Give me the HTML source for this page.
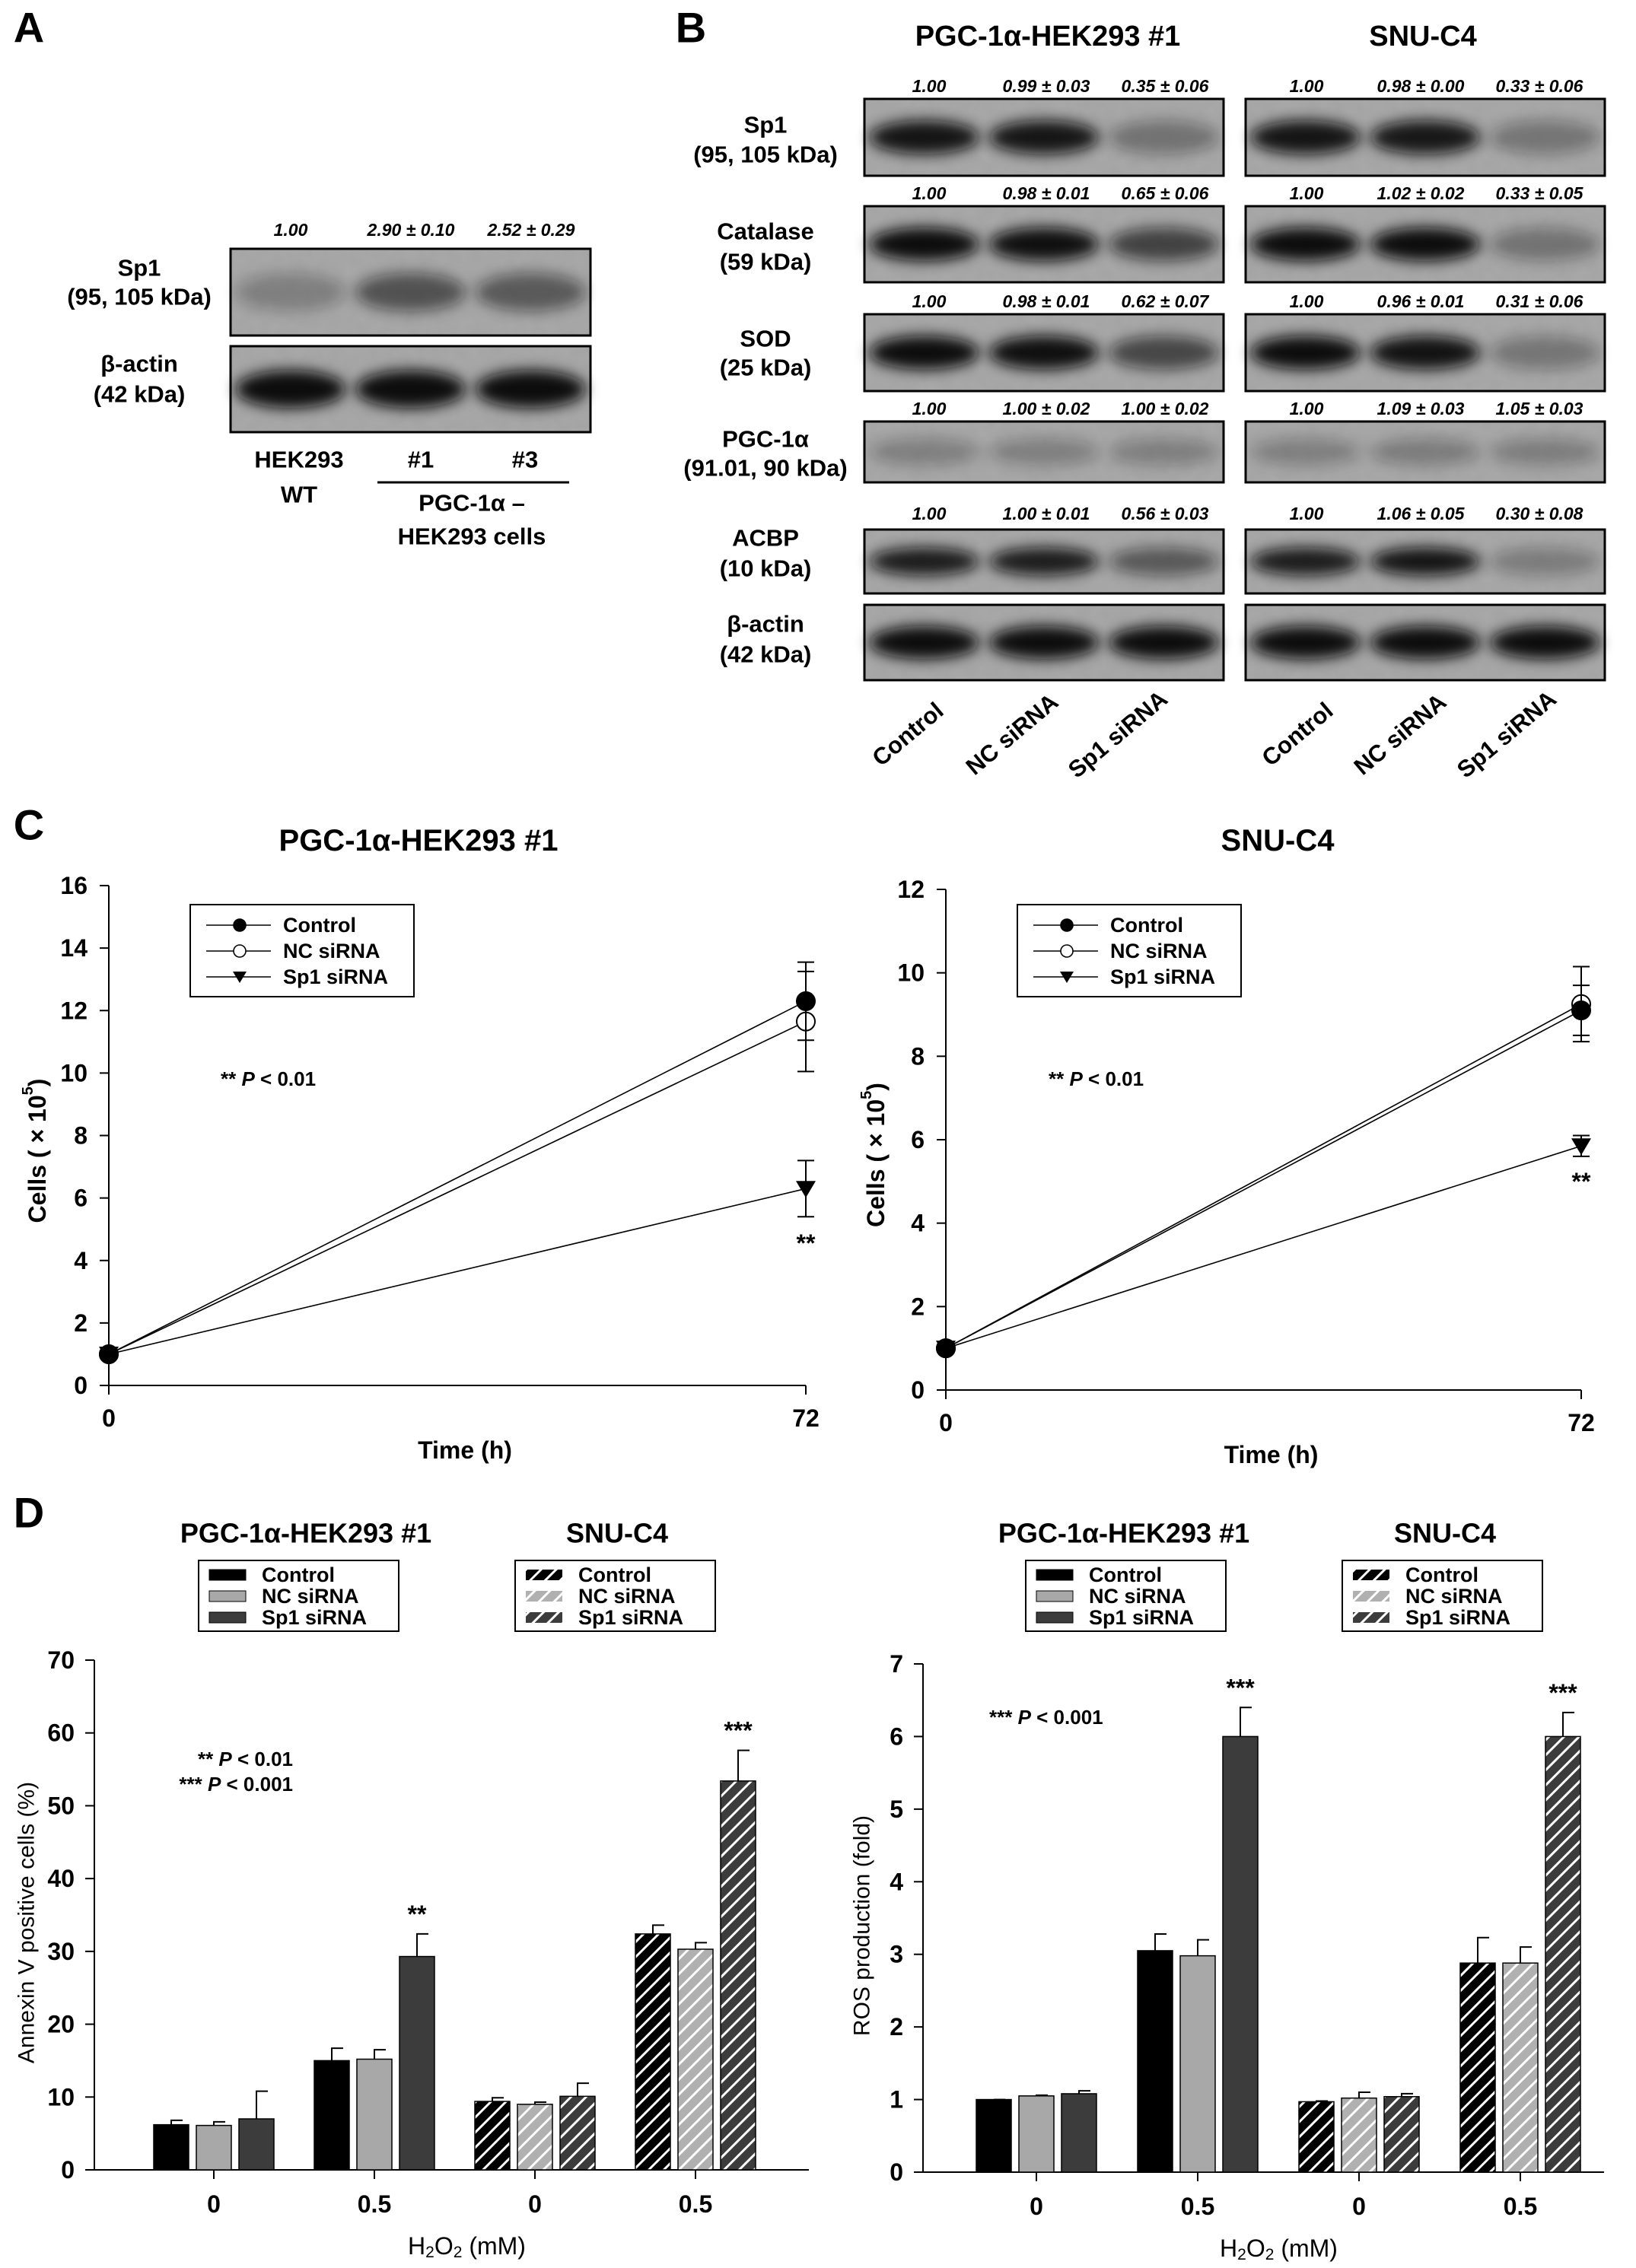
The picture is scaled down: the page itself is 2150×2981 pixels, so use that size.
<!DOCTYPE html>
<html><head><meta charset="utf-8"><style>
html,body{margin:0;padding:0;background:#fff;}
svg{display:block;font-family:"Liberation Sans",Arial,sans-serif;font-weight:bold;}
</style></head><body>
<svg id="fig" xmlns="http://www.w3.org/2000/svg" width="2150" height="2981" viewBox="0 0 2150 2981">
<defs>
<filter id="blur" x="-30%" y="-60%" width="160%" height="220%"><feGaussianBlur stdDeviation="9"/></filter>
<filter id="noise" x="0" y="0" width="100%" height="100%"><feTurbulence type="fractalNoise" baseFrequency="0.06" numOctaves="2" seed="3"/><feColorMatrix type="matrix" values="0 0 0 0 0.3 0 0 0 0 0.3 0 0 0 0 0.3 0 0 0 0.3 0"/></filter>
<pattern id="hatchBlack" patternUnits="userSpaceOnUse" width="14" height="14" patternTransform="rotate(45)"><rect width="14" height="14" fill="#000"/><rect x="0" y="0" width="3" height="14" fill="#fff"/></pattern>
<pattern id="hatchLight" patternUnits="userSpaceOnUse" width="14" height="14" patternTransform="rotate(45)"><rect width="14" height="14" fill="#b0b0b0"/><rect x="0" y="0" width="3" height="14" fill="#fff"/></pattern>
<pattern id="hatchDark" patternUnits="userSpaceOnUse" width="14" height="14" patternTransform="rotate(45)"><rect width="14" height="14" fill="#3c3c3c"/><rect x="0" y="0" width="3" height="14" fill="#fff"/></pattern>
</defs>
</svg>
<script>
// ---------- Panel C data ----------
var cTime = [0, 72];
var cHekControl = [1.0, 12.3];
var cHekNC = [1.0, 11.65];
var cHekSp1 = [1.0, 6.3];
var cHekControlErr = [0.05, 1.25];
var cHekNCErr = [0.05, 1.6];
var cHekSp1Err = [0.05, 0.9];
var cSnuControl = [1.0, 9.1];
var cSnuNC = [1.0, 9.25];
var cSnuSp1 = [1.0, 5.85];
var cSnuControlErr = [0.05, 0.6];
var cSnuNCErr = [0.05, 0.9];
var cSnuSp1Err = [0.05, 0.25];
var cHekTicks = [0, 2, 4, 6, 8, 10, 12, 14, 16];
var cSnuTicks = [0, 2, 4, 6, 8, 10, 12];
var cXTicks = ["0", "72"];
// ---------- Panel D data ----------
var dCategories = ["0", "0.5", "0", "0.5"];
var dAnnexinControl = [6.2, 15.0, 9.4, 32.4];
var dAnnexinNC = [6.1, 15.2, 9.0, 30.3];
var dAnnexinSp1 = [7.0, 29.3, 10.1, 53.4];
var dAnnexinControlErr = [0.6, 1.7, 0.5, 1.2];
var dAnnexinNCErr = [0.5, 1.3, 0.3, 0.9];
var dAnnexinSp1Err = [3.8, 3.1, 1.8, 4.2];
var dAnnexinStars = ["", "**", "", "***"];
var dAnnexinTicks = [0, 10, 20, 30, 40, 50, 60, 70];
var dRosControl = [1.0, 3.05, 0.97, 2.88];
var dRosNC = [1.05, 2.98, 1.02, 2.88];
var dRosSp1 = [1.08, 6.0, 1.04, 6.0];
var dRosControlErr = [0.0, 0.23, 0.01, 0.35];
var dRosNCErr = [0.01, 0.22, 0.08, 0.22];
var dRosSp1Err = [0.04, 0.4, 0.04, 0.33];
var dRosStars = ["", "***", "", "***"];
var dRosTicks = [0, 1, 2, 3, 4, 5, 6, 7];
// ---------- Blot intensities ----------
var blotALanes = [0.45, 1.0, 0.9];
var blotAActin = [1, 1, 1];
var blotBRows = ["Sp1", "Catalase", "SOD", "PGC-1α", "ACBP", "β-actin"];
var blotBHekVals = [[1,0.99,0.35],[1,0.98,0.65],[1,0.98,0.62],[1,1,1],[1,1,0.56],[1,1,1]];
var blotBSnuVals = [[1,0.98,0.33],[1,1.02,0.33],[1,0.96,0.31],[1,1.09,1.05],[1,1.06,0.30],[1,1,1]];

var NS = "http://www.w3.org/2000/svg";
var svg = document.getElementById("fig");
function mk(tag, attrs, parent) {
  var e = document.createElementNS(NS, tag);
  for (var k in attrs) e.setAttribute(k, attrs[k]);
  (parent || svg).appendChild(e);
  return e;
}
function txt(str, x, y, size, parent, anchor, extra) {
  var a = {x: x, y: y, "font-size": size, "text-anchor": anchor || "middle", "dominant-baseline": "central", fill: "#000"};
  if (extra) for (var k in extra) a[k] = extra[k];
  var t = mk("text", a, parent);
  t.textContent = str;
  return t;
}

// ---------- Panel letters ----------
var letters = [["A", 38, 36], ["B", 908, 36], ["C", 38, 1084], ["D", 38, 1988]];
letters.forEach(function (L) {
  var t = txt(L[0], L[1], L[2], 56);
  
  
});

// ---------- Blot helper ----------
function blot(x, y, w, h, vals, dark, name) {
  var g = mk("g", {});
  
  
  mk("rect", {x: x, y: y, width: w, height: h, fill: "#a9a9a9"}, g);
  mk("rect", {x: x, y: y, width: w, height: h, filter: "url(#noise)"}, g);
  var lw = w / 3;
  vals.forEach(function (v, i) {
    var cx = x + lw * (i + 0.5);
    var op = Math.max(0.12, Math.min(1, v * dark));
    var b = mk("ellipse", {cx: cx, cy: y + h * 0.5, rx: lw * 0.46, ry: h * 0.22, fill: "#0a0a0a", opacity: op, filter: "url(#blur)"}, g);
    
    
  });
  mk("rect", {x: x, y: y, width: w, height: h, fill: "none", stroke: "#000", "stroke-width": 3}, g);
  return g;
}

// ---------- Panel A ----------
blot(303, 327, 473, 114, blotALanes, 0.55, "blot-a-sp1");
blot(303, 455, 473, 113, blotAActin, 1.1, "blot-a-actin");
var aVals = ["1.00", "2.90 ± 0.10", "2.52 ± 0.29"];
[382, 540, 698].forEach(function (x, i) {
  var t = txt(aVals[i], x, 302, 23, null, "middle", {"font-style": "italic"});
  
  
});
[["Sp1", 183, 352], ["(95, 105 kDa)", 183, 390], ["β-actin", 183, 478], ["(42 kDa)", 183, 518],
 ["HEK293", 393, 604], ["WT", 393, 650], ["#1", 553, 604], ["#3", 690, 604],
 ["PGC-1α –", 620, 661], ["HEK293 cells", 620, 705]].forEach(function (L) {
  var t = txt(L[0], L[1], L[2], 31);
  
  
});
var aLine = mk("line", {x1: 496, y1: 634, x2: 748, y2: 634, stroke: "#000", "stroke-width": 3});



// ---------- Panel B ----------
var bRowsY = [[130, 231], [271, 371], [413, 514], [554, 634], [696, 780], [795, 894]];
var bLabelY = [[164, 203], [304, 344], [445, 483], [577, 615], [707, 747], [820, 860]];
var bSub = ["(95, 105 kDa)", "(59 kDa)", "(25 kDa)", "(91.01, 90 kDa)", "(10 kDa)", "(42 kDa)"];
var bHekValTxt = [["1.00","0.99 ± 0.03","0.35 ± 0.06"],["1.00","0.98 ± 0.01","0.65 ± 0.06"],["1.00","0.98 ± 0.01","0.62 ± 0.07"],["1.00","1.00 ± 0.02","1.00 ± 0.02"],["1.00","1.00 ± 0.01","0.56 ± 0.03"]];
var bSnuValTxt = [["1.00","0.98 ± 0.00","0.33 ± 0.06"],["1.00","1.02 ± 0.02","0.33 ± 0.05"],["1.00","0.96 ± 0.01","0.31 ± 0.06"],["1.00","1.09 ± 0.03","1.05 ± 0.03"],["1.00","1.06 ± 0.05","0.30 ± 0.08"]];
var bValY = [113, 254, 396, 537, 675];
var bDark = [0.95, 1.0, 1.0, 0.25, 0.9, 1.1];
bRowsY.forEach(function (r, i) {
  blot(1136, r[0], 472, r[1] - r[0], blotBHekVals[i], bDark[i], "blot-b-hek-" + i);
  blot(1637, r[0], 472, r[1] - r[0], blotBSnuVals[i], bDark[i], "blot-b-snu-" + i);
  var t1 = txt(blotBRows[i], 1006, bLabelY[i][0], 31);
  
  
  var t2 = txt(bSub[i], 1006, bLabelY[i][1], 31);
  
  
});
bValY.forEach(function (y, i) {
  [1221, 1375, 1531].forEach(function (x, j) {
    var t = txt(bHekValTxt[i][j], x, y, 23, null, "middle", {"font-style": "italic"});
    
    
  });
  [1717, 1867, 2023].forEach(function (x, j) {
    var t = txt(bSnuValTxt[i][j], x, y, 23, null, "middle", {"font-style": "italic"});
    
    
  });
});
var bh1 = txt("PGC-1α-HEK293 #1", 1377, 48, 38);


var bh2 = txt("SNU-C4", 1870, 48, 38);


var laneNames = ["Control", "NC siRNA", "Sp1 siRNA"];
[[1193, 1330, 1469], [1705, 1840, 1980]].forEach(function (xs) {
  xs.forEach(function (x, j) {
    var t = txt(laneNames[j], x, 965, 31, null, "middle", {transform: "rotate(-40 " + x + " 965)"});
    
    
  });
});

// ---------- Line charts (Panel C) ----------
function lineChart(cfg) {
  var g = mk("g", {});
  
  
  var xs = function (t) { return cfg.x0 + (t - cTime[0]) / (cTime[1] - cTime[0]) * (cfg.x1 - cfg.x0); };
  var ys = function (v) { return cfg.y0 - v / cfg.ymax * (cfg.y0 - cfg.ytop); };
  var ax = mk("path", {d: "M" + cfg.x0 + " " + cfg.ytop + " V" + cfg.y0 + " H" + cfg.x1, fill: "none", stroke: "#000", "stroke-width": 2}, g);
  
  
  cfg.ticks.forEach(function (v) {
    mk("line", {x1: cfg.x0 - 12, x2: cfg.x0, y1: ys(v), y2: ys(v), stroke: "#000", "stroke-width": 2}, g);
    var t = txt(String(v), cfg.x0 - 28, ys(v), 32, g, "end");
    
    
  });
  cTime.forEach(function (tm, i) {
    mk("line", {x1: xs(tm), x2: xs(tm), y1: cfg.y0, y2: cfg.y0 + 12, stroke: "#000", "stroke-width": 2}, g);
    var t = txt(cXTicks[i], xs(tm), cfg.y0 + 43, 32, g);
    
    
  });
  var xt = txt("Time (h)", (cfg.x0 + cfg.x1) / 2 + 10, cfg.y0 + 85, 32, g);
  
  
  var yc = (cfg.y0 + cfg.ytop) / 2 + 20;
  var yt = mk("text", {x: cfg.ytx, y: yc, "font-size": 32, "text-anchor": "middle", "dominant-baseline": "central", transform: "rotate(-90 " + cfg.ytx + " " + yc + ")"}, g);
  yt.innerHTML = 'Cells ( × 10<tspan dy="-12" font-size="20">5</tspan><tspan dy="12">)</tspan>';
  
  
  var tt = txt(cfg.title, cfg.titleX, 1105, 40, g);
  
  
  var pt = mk("text", {x: cfg.px, y: 1418, "font-size": 26, "dominant-baseline": "central"}, g);
  pt.innerHTML = '** <tspan font-style="italic">P</tspan> &lt; 0.01';
  
  
  var series = [
    {v: cfg.sp1, e: cfg.sp1e, m: "tri", n: "series-sp1-sirna"},
    {v: cfg.nc, e: cfg.nce, m: "open", n: "series-nc-sirna"},
    {v: cfg.ctrl, e: cfg.ctrle, m: "filled", n: "series-control"}
  ];
  series.forEach(function (s) {
    var sg = mk("g", {}, g);
    
    
    var ln = mk("polyline", {points: cTime.map(function (t, i) { return xs(t) + "," + ys(s.v[i]); }).join(" "), fill: "none", stroke: "#000", "stroke-width": 1.6}, sg);
    
    
    cTime.forEach(function (t, i) {
      var x = xs(t), y = ys(s.v[i]);
      if (s.e[i] > 0.1) {
        var eb = mk("path", {d: "M" + x + " " + ys(s.v[i] - s.e[i]) + " V" + ys(s.v[i] + s.e[i]) + " M" + (x - 11) + " " + ys(s.v[i] + s.e[i]) + " h22 M" + (x - 11) + " " + ys(s.v[i] - s.e[i]) + " h22", stroke: "#000", "stroke-width": 2, fill: "none"}, sg);
        
        
      }
      var mkEl;
      if (s.m === "tri") mkEl = mk("path", {d: "M" + (x - 13) + " " + (y - 10) + " h26 l-13 22 z", fill: "#000"}, sg);
      else mkEl = mk("circle", {cx: x, cy: y, r: 12, fill: s.m === "filled" ? "#000" : "#fff", stroke: "#000", "stroke-width": 2}, sg);
      
      
    });
  });
  var st = txt("**", xs(72), ys(cfg.starV), 32, g);
  
  
  var lg = mk("g", {}, g);
  
  
  var lx = cfg.lx;
  mk("rect", {x: lx, y: 1189, width: 294, height: 121, fill: "#fff", stroke: "#000", "stroke-width": 2}, lg);
  [["Control", "filled"], ["NC siRNA", "open"], ["Sp1 siRNA", "tri"]].forEach(function (r, i) {
    var y = 1216 + i * 34;
    var e = mk("g", {}, lg);
    
    
    mk("line", {x1: lx + 21, x2: lx + 106, y1: y, y2: y, stroke: "#000", "stroke-width": 1.6}, e);
    var mx = lx + 65;
    if (r[1] === "tri") mk("path", {d: "M" + (mx - 9) + " " + (y - 7) + " h18 l-9 15 z", fill: "#000"}, e);
    else mk("circle", {cx: mx, cy: y, r: 8, fill: r[1] === "filled" ? "#000" : "#fff", stroke: "#000", "stroke-width": 1.6}, e);
    txt(r[0], lx + 122, y, 27, e, "start");
  });
}
lineChart({name: "chart-c-hek", x0: 143, x1: 1059, y0: 1821, ytop: 1164, ymax: 16, ticks: cHekTicks,
  ctrl: cHekControl, nc: cHekNC, sp1: cHekSp1, ctrle: cHekControlErr, nce: cHekNCErr, sp1e: cHekSp1Err,
  title: "PGC-1α-HEK293 #1", titleX: 550, px: 290, lx: 250, ytx: 49, starV: 4.55});
lineChart({name: "chart-c-snu", x0: 1243, x1: 2078, y0: 1827, ytop: 1169, ymax: 12, ticks: cSnuTicks,
  ctrl: cSnuControl, nc: cSnuNC, sp1: cSnuSp1, ctrle: cSnuControlErr, nce: cSnuNCErr, sp1e: cSnuSp1Err,
  title: "SNU-C4", titleX: 1679, px: 1378, lx: 1337, ytx: 1151, starV: 5.0});

// ---------- Bar charts (Panel D) ----------
function barChart(cfg) {
  var g = mk("g", {});
  
  
  var ys = function (v) { return cfg.y0 - v / cfg.ymax * (cfg.y0 - cfg.ytop); };
  var xc = function (i) { return cfg.cx0 + i * cfg.step; };
  var ax = mk("path", {d: "M" + cfg.x0 + " " + cfg.ytop + " V" + cfg.y0 + " H" + cfg.x1, fill: "none", stroke: "#000", "stroke-width": 2}, g);
  
  
  cfg.ticks.forEach(function (v) {
    mk("line", {x1: cfg.x0 - 12, x2: cfg.x0, y1: ys(v), y2: ys(v), stroke: "#000", "stroke-width": 2}, g);
    var t = txt(String(v), cfg.x0 - 26, ys(v), 32, g, "end");
    
    
  });
  dCategories.forEach(function (c, i) {
    mk("line", {x1: xc(i), x2: xc(i), y1: cfg.y0, y2: cfg.y0 + 12, stroke: "#000", "stroke-width": 2}, g);
    var t = txt(c, xc(i), cfg.y0 + 45, 32, g);
    
    
  });
  var xt = mk("text", {x: (cfg.x0 + cfg.x1) / 2 + 20, y: cfg.y0 + 100, "font-size": 32, "text-anchor": "middle", "dominant-baseline": "central", "font-weight": "normal"}, g);
  xt.innerHTML = 'H<tspan dy="8" font-size="21">2</tspan><tspan dy="-8">O</tspan><tspan dy="8" font-size="21">2</tspan><tspan dy="-8"> (mM)</tspan>';
  
  
  var yc = (cfg.y0 + cfg.ytop) / 2 + 10;
  var yt = txt(cfg.ytitle, cfg.ytx, yc, 30, g, "middle", {transform: "rotate(-90 " + cfg.ytx + " " + yc + ")", "font-weight": "normal"});
  
  
  var series = [
    {v: cfg.ctrl, e: cfg.ctrle, solid: "#000", hatch: "url(#hatchBlack)", n: "control"},
    {v: cfg.nc, e: cfg.nce, solid: "#a8a8a8", hatch: "url(#hatchLight)", n: "nc-sirna"},
    {v: cfg.sp1, e: cfg.sp1e, solid: "#3c3c3c", hatch: "url(#hatchDark)", n: "sp1-sirna"}
  ];
  dCategories.forEach(function (c, i) {
    series.forEach(function (s, k) {
      var cx = xc(i) + (k - 1) * 56;
      var top = ys(s.v[i]);
      var b = mk("rect", {x: cx - 23, y: top, width: 46, height: cfg.y0 - top, fill: i < 2 ? s.solid : s.hatch, stroke: "#000", "stroke-width": 1.5}, g);
      
      
      var et = ys(s.v[i] + s.e[i]);
      var eb = mk("path", {d: "M" + cx + " " + top + " V" + et + " h15", stroke: "#000", "stroke-width": 2, fill: "none"}, g);
      
      
    });
    if (cfg.stars[i]) {
      var st = txt(cfg.stars[i], xc(i) + 56, ys(cfg.sp1[i] + cfg.sp1e[i]) - 26, 32, g);
      
      
    }
  });
  [["PGC-1α-HEK293 #1", cfg.t1x, false, cfg.l1x], ["SNU-C4", cfg.t2x, true, cfg.l2x]].forEach(function (T) {
    var tt = txt(T[0], T[1], 2015, 36, g);
    
    
    var lg = mk("g", {}, g);
    
    
    mk("rect", {x: T[3], y: 2051, width: 263, height: 93, fill: "#fff", stroke: "#000", "stroke-width": 2}, lg);
    var fills = T[2] ? ["url(#hatchBlack)", "url(#hatchLight)", "url(#hatchDark)"] : ["#000", "#a8a8a8", "#3c3c3c"];
    ["Control", "NC siRNA", "Sp1 siRNA"].forEach(function (nm, j) {
      var y = 2070 + j * 28;
      var e = mk("g", {}, lg);
      
      
      mk("rect", {x: T[3] + 14, y: y - 7, width: 48, height: 14, fill: fills[j], stroke: T[2] ? "none" : "#000", "stroke-width": 1}, e);
      txt(nm, T[3] + 83, y, 27, e, "start");
    });
  });
  cfg.pnotes.forEach(function (p, j) {
    var pt = mk("text", {x: cfg.px, y: cfg.py + j * 33, "font-size": 26, "text-anchor": cfg.panchor, "dominant-baseline": "central"}, g);
    pt.innerHTML = p[0] + ' <tspan font-style="italic">P</tspan> &lt; ' + p[1];
    
    
  });
}
barChart({name: "chart-d-annexin", x0: 124, x1: 1063, y0: 2852, ytop: 2182, ymax: 70, ticks: dAnnexinTicks,
  cx0: 281, step: 211, ctrl: dAnnexinControl, nc: dAnnexinNC, sp1: dAnnexinSp1,
  ctrle: dAnnexinControlErr, nce: dAnnexinNCErr, sp1e: dAnnexinSp1Err, stars: dAnnexinStars,
  ytitle: "Annexin V positive cells (%)", ytx: 35, t1x: 402, t2x: 811, l1x: 261, l2x: 677,
  pnotes: [["**", "0.01"], ["***", "0.001"]], px: 385, py: 2312, panchor: "end"});
barChart({name: "chart-d-ros", x0: 1213, x1: 2108, y0: 2855, ytop: 2187, ymax: 7, ticks: dRosTicks,
  cx0: 1362, step: 212, ctrl: dRosControl, nc: dRosNC, sp1: dRosSp1,
  ctrle: dRosControlErr, nce: dRosNCErr, sp1e: dRosSp1Err, stars: dRosStars,
  ytitle: "ROS production (fold)", ytx: 1133, t1x: 1477, t2x: 1899, l1x: 1348, l2x: 1764,
  pnotes: [["***", "0.001"]], px: 1300, py: 2257, panchor: "start"});
</script>
</body></html>
